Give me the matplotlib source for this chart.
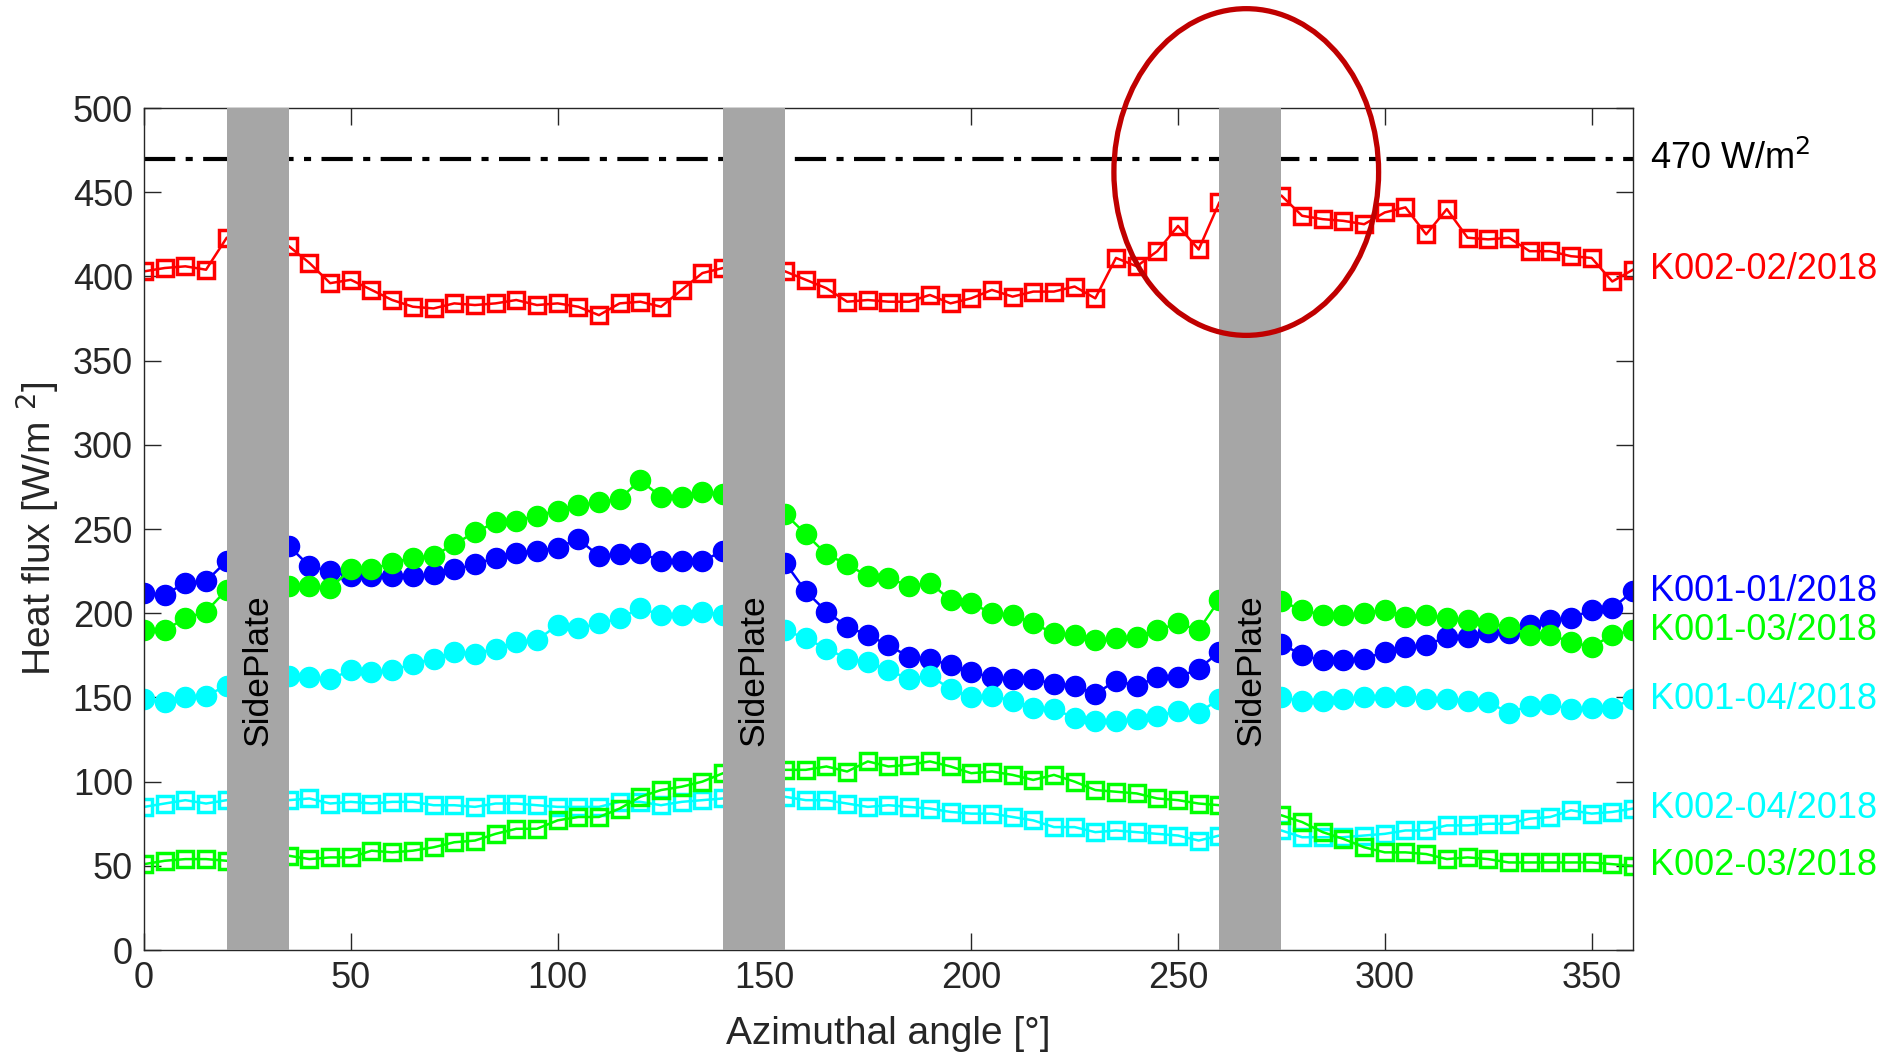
import matplotlib.pyplot as plt
import numpy as np
from matplotlib.patches import Ellipse

plt.rcParams['font.family'] = ['Liberation Sans', 'DejaVu Sans']

angle = np.arange(0, 361, 5)

k002_02 = [403, 405, 406, 404, 423, 421, 419, 418, 408, 396,
           398, 392, 386, 382, 381, 384, 383, 384, 386, 383,
           384, 382, 377, 384, 385, 382, 392, 402, 405, 405,
           404, 403, 398, 393, 385, 386, 385, 385, 389, 384,
           387, 392, 388, 391, 391, 394, 387, 411, 406, 415,
           430, 416, 444, 446, 447, 448, 436, 434, 433, 431,
           438, 441, 425, 440, 423, 422, 423, 415, 415, 412,
           411, 397, 404]
k001_01 = [212, 211, 218, 219, 231, 236, 239, 240, 228, 225,
           222, 222, 222, 222, 223, 226, 229, 233, 236, 237,
           239, 244, 234, 235, 236, 231, 231, 231, 237, 235,
           233, 230, 213, 201, 192, 187, 181, 174, 173, 169,
           165, 162, 161, 161, 158, 157, 152, 160, 157, 162,
           162, 167, 177, 180, 181, 182, 175, 172, 172, 173,
           177, 180, 181, 186, 186, 189, 188, 193, 196, 197,
           202, 203, 213]
k001_03 = [190, 190, 197, 201, 214, 215, 216, 216, 216, 215,
           226, 226, 230, 233, 234, 241, 248, 254, 255, 258,
           261, 264, 266, 268, 279, 269, 269, 272, 271, 268,
           264, 259, 247, 235, 229, 222, 221, 216, 218, 208,
           206, 200, 199, 194, 188, 187, 184, 185, 186, 190,
           194, 190, 208, 208, 207, 207, 202, 199, 199, 200,
           202, 198, 199, 197, 196, 194, 192, 187, 187, 183,
           180, 187, 190]
k001_04 = [149, 147, 150, 151, 157, 160, 162, 163, 162, 161,
           166, 165, 166, 170, 173, 177, 176, 179, 183, 184,
           193, 191, 194, 197, 203, 199, 199, 201, 199, 196,
           193, 190, 185, 179, 173, 171, 166, 161, 163, 155,
           150, 151, 148, 144, 143, 138, 136, 136, 137, 139,
           142, 141, 149, 149, 149, 150, 148, 148, 149, 150,
           150, 151, 149, 149, 148, 147, 141, 145, 146, 143,
           144, 144, 149]
k002_04 = [85, 87, 89, 87, 89, 89, 89, 89, 90, 87,
           88, 87, 88, 88, 86, 86, 85, 87, 87, 86,
           85, 85, 85, 88, 88, 86, 88, 89, 90, 91,
           91, 91, 89, 89, 87, 85, 86, 85, 84, 82,
           81, 81, 79, 77, 73, 73, 70, 71, 70, 69,
           68, 65, 68, 69, 70, 71, 67, 67, 67, 68,
           69, 71, 71, 74, 74, 75, 75, 78, 79, 83,
           81, 82, 84]
k002_03 = [51, 53, 54, 54, 53, 54, 55, 56, 54, 55,
           55, 59, 58, 59, 61, 64, 65, 69, 72, 72,
           77, 79, 79, 84, 91, 95, 97, 100, 105, 106,
           107, 107, 107, 109, 106, 112, 109, 110, 112, 109,
           105, 106, 104, 101, 104, 100, 95, 94, 93, 90,
           89, 87, 86, 84, 82, 80, 76, 70, 66, 61,
           58, 58, 57, 54, 55, 54, 52, 52, 52, 52,
           52, 51, 50]

side_plates = [(20, 35), (140, 155), (260, 275)]
limit = 470

fig = plt.figure(figsize=(18.85, 10.57), dpi=100)
ax = fig.add_axes([0.0764, 0.1012, 0.7899, 0.7966])

sq = dict(marker='s', markersize=11, markerfacecolor='none', markeredgewidth=2.5, linewidth=1.8)
ci = dict(marker='o', markersize=14.5, linewidth=1.8)

ax.plot(angle, k002_02, color='#FF0000', **sq)
ax.plot(angle, k001_01, color='#0000FF', **ci)
ax.plot(angle, k001_03, color='#00FF00', **ci)
ax.plot(angle, k001_04, color='#00FFFF', **ci)
ax.plot(angle, k002_04, color='#00FFFF', **sq)
ax.plot(angle, k002_03, color='#00FF00', **sq)

ax.axhline(limit, color='black', linewidth=3, dashes=(7.5, 2.5, 1.7, 2.5))

for a0, a1 in side_plates:
    ax.axvspan(a0, a1, color='#A6A6A6', zorder=5, linewidth=0)
    ax.text((a0 + a1) / 2, 166, 'SidePlate', rotation=90, ha='center', va='center',
            fontsize=25.5, color='black', zorder=6)

ax.add_patch(Ellipse((266.5, 462), 64, 194, fill=False, edgecolor='#C00000',
                     linewidth=3.8, clip_on=False, zorder=7))

labels = [('K002-02/2018', k002_02, '#FF0000'),
          ('K001-01/2018', k001_01, '#0000FF'),
          ('K001-03/2018', k001_03, '#00FF00'),
          ('K001-04/2018', k001_04, '#00FFFF'),
          ('K002-04/2018', k002_04, '#00FFFF'),
          ('K002-03/2018', k002_03, '#00FF00')]
for name, vals, c in labels:
    ax.text(364, vals[-1], name, color=c, fontsize=26, ha='left', va='center', clip_on=False)
ax.text(364, limit, '470 W/m$^2$', color='black', fontsize=26, ha='left', va='center', clip_on=False)

ax.set_xlim(0, 360)
ax.set_ylim(0, 500)
ax.set_xticks(np.arange(0, 351, 50))
ax.set_yticks(np.arange(0, 501, 50))
ax.tick_params(direction='in', length=12, width=1, colors='#262626', labelsize=26,
               top=True, right=True, pad=8)
for s in ax.spines.values():
    s.set_color('#262626')
    s.set_linewidth(1)
ax.set_xlabel('Azimuthal angle [°]', fontsize=28, color='#262626', labelpad=14)
ax.set_ylabel('Heat flux [W/m $^{2}$]', fontsize=28, color='#262626', labelpad=8)

fig.savefig('out.png', dpi=100)
